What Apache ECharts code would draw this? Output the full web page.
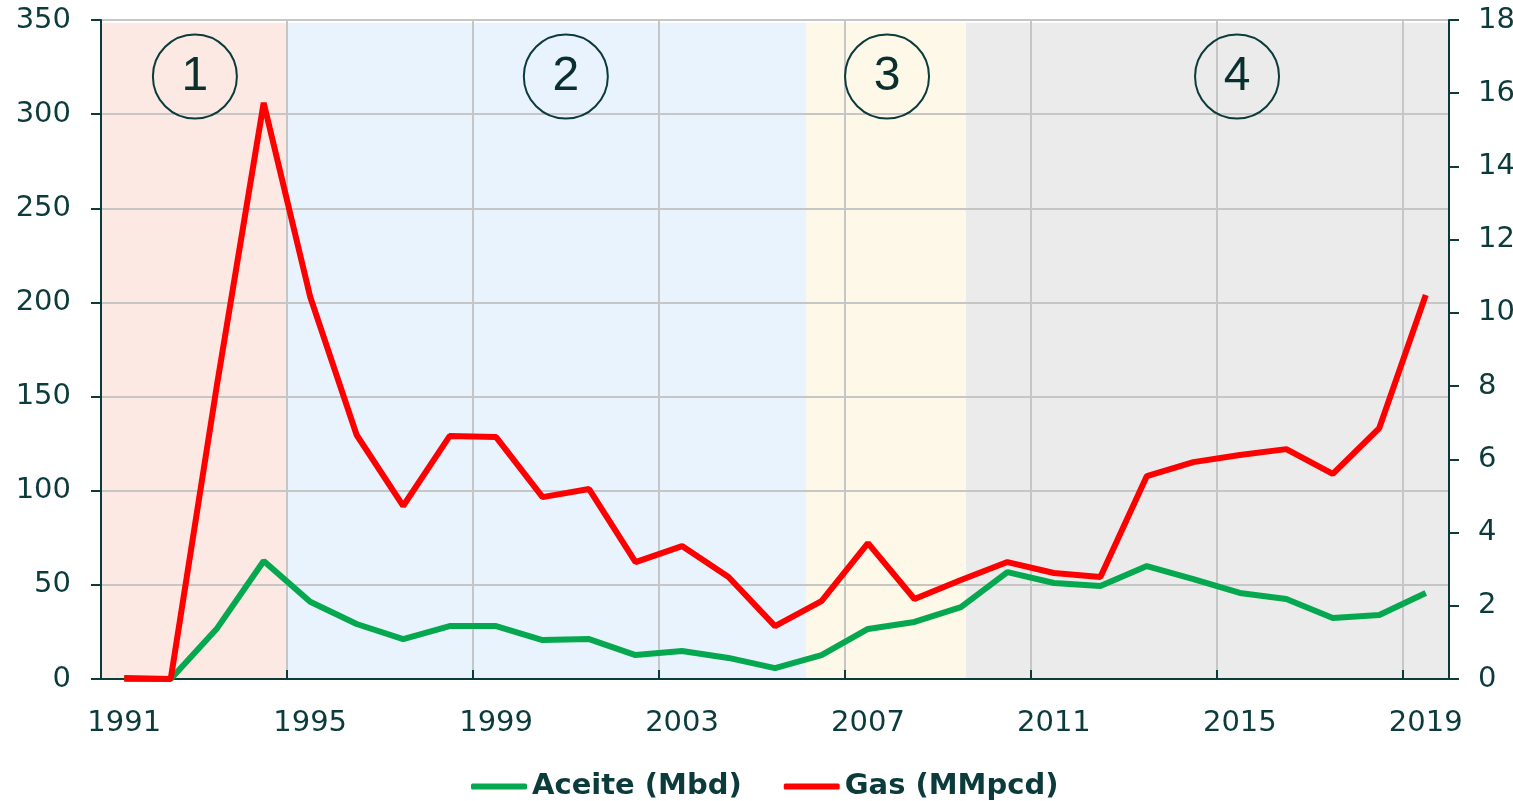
<!DOCTYPE html>
<html>
<head>
<meta charset="utf-8">
<script src="https://cdn.jsdelivr.net/npm/echarts@6/dist/echarts.min.js"></script>
<style>
  html, body { margin: 0; padding: 0; background: #fff; overflow: hidden; }
  #chart { width: 1513px; height: 801px; }
</style>
</head>
<body>
<div id="chart"></div>
<script>
// años (eje de categorías)
const years = ['1991','1992','1993','1994','1995','1996','1997','1998','1999','2000',
  '2001','2002','2003','2004','2005','2006','2007','2008','2009','2010',
  '2011','2012','2013','2014','2015','2016','2017','2018','2019'];

// Aceite (Mbd)
const aceite = [0, 0, 27, 62.7, 41, 29.2, 21.2, 28.1, 28.1, 20.7,
  21.2, 12.7, 14.9, 11.2, 5.8, 12.7, 26.6, 30.3, 38.2, 56.8,
  51, 49.4, 60, 53.1, 45.7, 42.5, 32.4, 34, 45.7];

// Gas (MMpcd)
const gas = [0.5, 0, 157, 306, 203, 129.6, 91.9, 129, 128.5, 96.6,
  100.9, 62.1, 70.6, 54.2, 28.1, 41.4, 72.2, 42.5, 52.6, 62.1,
  56.3, 54.2, 107.8, 115.2, 119, 122.1, 108.9, 133.3, 203.9];

// etapas: límites (en años) y etiquetas
const phaseBounds = [1990.5, 1994.5, 2005.67, 2009.11, 2019.5];
const phaseColors = ['#fde9e3', '#e9f3fd', '#fdf8e7', '#ebebeb'];
const phaseLabels = ['1', '2', '3', '4'];
const phaseCenters = [1992.52, 2000.5, 2007.41, 2014.94];
const phaseLabelY = 320;

const leftTicks = { min: 0, max: 350, interval: 50 };
const rightTicks = { min: 0, max: 18, interval: 2 };

const dark = '#0c3b3b';
const font = 'DejaVu Sans';

let myChart = echarts.init(document.getElementById('chart'));

let areas = [];
for (let i = 0; i < phaseLabels.length; i++) {
  areas.push([
    { xAxis: phaseBounds[i], yAxis: 0, itemStyle: { color: phaseColors[i] } },
    { xAxis: phaseBounds[i + 1], yAxis: 348.5 }
  ]);
}

myChart.setOption({
  backgroundColor: '#fff',
  animation: false,
  grid: { left: 101, right: 64, top: 20, bottom: 122, containLabel: false, outerBoundsMode: 'none' },
  legend: {
    data: ['Aceite (Mbd)', 'Gas (MMpcd)'],
    left: 466,
    top: 767,
    icon: 'roundRect',
    itemWidth: 56,
    itemHeight: 6,
    itemGap: 42,
    textStyle: { color: dark, fontSize: 29, fontWeight: 'bold', fontFamily: font }
  },
  xAxis: [
    {
      type: 'category',
      data: years,
      boundaryGap: true,
      z: 1,
      axisLine: { lineStyle: { color: dark, width: 2 } },
      axisTick: { show: true, inside: true, length: 9, interval: 3, lineStyle: { color: dark, width: 2 } },
      axisLabel: { interval: 3, margin: 30, color: dark, fontSize: 29, fontFamily: font },
      splitLine: { show: true, interval: 3, lineStyle: { color: '#c6c6c6', width: 2 } }
    },
    {
      type: 'value',
      show: false,
      min: phaseBounds[0],
      max: phaseBounds[phaseBounds.length - 1]
    }
  ],
  yAxis: [
    {
      type: 'value',
      min: leftTicks.min, max: leftTicks.max, interval: leftTicks.interval,
      z: 1,
      axisLine: { show: true, lineStyle: { color: dark, width: 2 } },
      axisTick: { show: true, length: 10, lineStyle: { color: dark, width: 2 } },
      axisLabel: { margin: 30, color: dark, fontSize: 29, fontFamily: font },
      splitLine: { show: true, lineStyle: { color: '#c6c6c6', width: 2 } }
    },
    {
      type: 'value',
      position: 'right',
      min: rightTicks.min, max: rightTicks.max, interval: rightTicks.interval,
      z: 1,
      axisLine: { show: true, lineStyle: { color: dark, width: 2 } },
      axisTick: { show: true, length: 10, lineStyle: { color: dark, width: 2 } },
      axisLabel: { margin: 29, color: dark, fontSize: 29, fontFamily: font },
      splitLine: { show: false }
    }
  ],
  series: [
    {
      // franjas de las etapas + círculos numerados
      name: 'etapas',
      type: 'scatter',
      xAxisIndex: 1,
      yAxisIndex: 0,
      silent: true,
      symbol: 'circle',
      symbolSize: 84,
      z: 3,
      itemStyle: { color: 'rgba(255,255,255,0)', borderColor: dark, borderWidth: 2, opacity: 1 },
      label: {
        show: true,
        position: 'inside',
        formatter: p => p.name,
        color: '#0a2f2f',
        fontSize: 48,
        fontFamily: 'Liberation Sans'
      },
      emphasis: { disabled: true },
      data: phaseLabels.map((l, i) => ({ name: l, value: [phaseCenters[i], phaseLabelY] })),
      markArea: {
        silent: true,
        z: 0,
        data: areas
      }
    },
    {
      name: 'Aceite (Mbd)',
      type: 'line',
      data: aceite,
      symbol: 'none',
      z: 4,
      lineStyle: { color: '#06a84f', width: 6 },
      itemStyle: { color: '#06a84f' }
    },
    {
      name: 'Gas (MMpcd)',
      type: 'line',
      data: gas,
      symbol: 'none',
      z: 5,
      lineStyle: { color: '#ff0000', width: 6 },
      itemStyle: { color: '#ff0000' }
    }
  ]
});
</script>
</body>
</html>
